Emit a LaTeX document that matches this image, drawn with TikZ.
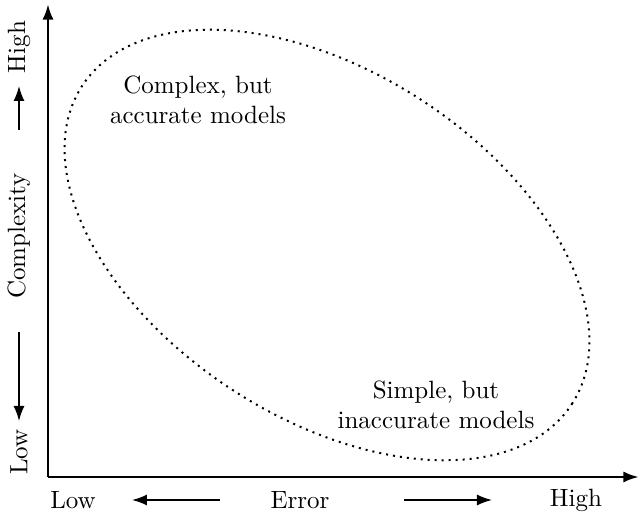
\documentclass[tikz,border=0pt]{standalone}
\usetikzlibrary{arrows.meta}
\begin{document}
\begin{tikzpicture}[x=0.4pt,y=-0.4pt,
  axis/.style={line width=1.1pt,-{Latex[length=6.2pt,width=4.4pt]}},
  hint/.style={line width=0.6pt,-{Latex[length=6pt,width=4.4pt]}},
  region/.style={line width=0.8pt,dotted},
  lbl/.style={inner sep=0pt,font=\normalsize},
  note/.style={align=center,inner sep=0pt,font=\normalsize}]
\useasboundingbox (0,0) rectangle (643,513);

% axes
\coordinate (O) at (48,477);
\coordinate (ytip) at (48,4);
\coordinate (xtip) at (639,477);
\draw[axis] (O) -- (ytip);
\draw[axis] (O) -- (xtip);

% model region
\draw[region] (327,245) ellipse [x radius=116.8pt, y radius=69.2pt, rotate=-33];

% region notes
\node[note] (complex) at (198,100) {Complex, but\\accurate models};
\node[note] (simple) at (436,405) {Simple, but\\inaccurate models};

% vertical axis labels
\node[lbl,rotate=90] (yhigh) at (19,47) {High};
\node[lbl,rotate=90] (ylabel) at (19,236) {Complexity};
\node[lbl,rotate=90] (ylow) at (19,452) {Low};
\coordinate (uptail) at (19,130);
\coordinate (uphead) at (19,86);
\coordinate (dntail) at (19,332);
\coordinate (dnhead) at (19,421);
\draw[hint] (uptail) -- (uphead);
\draw[hint] (dntail) -- (dnhead);

% horizontal axis labels
\node[lbl] (xlow) at (73,500) {Low};
\node[lbl] (xlabel) at (300,500) {Error};
\node[lbl] (xhigh) at (576,500) {High};
\coordinate (lttail) at (220,500);
\coordinate (lthead) at (132,500);
\coordinate (rttail) at (404,500);
\coordinate (rthead) at (492,500);
\draw[hint] (lttail) -- (lthead);
\draw[hint] (rttail) -- (rthead);
\end{tikzpicture}
\end{document}
